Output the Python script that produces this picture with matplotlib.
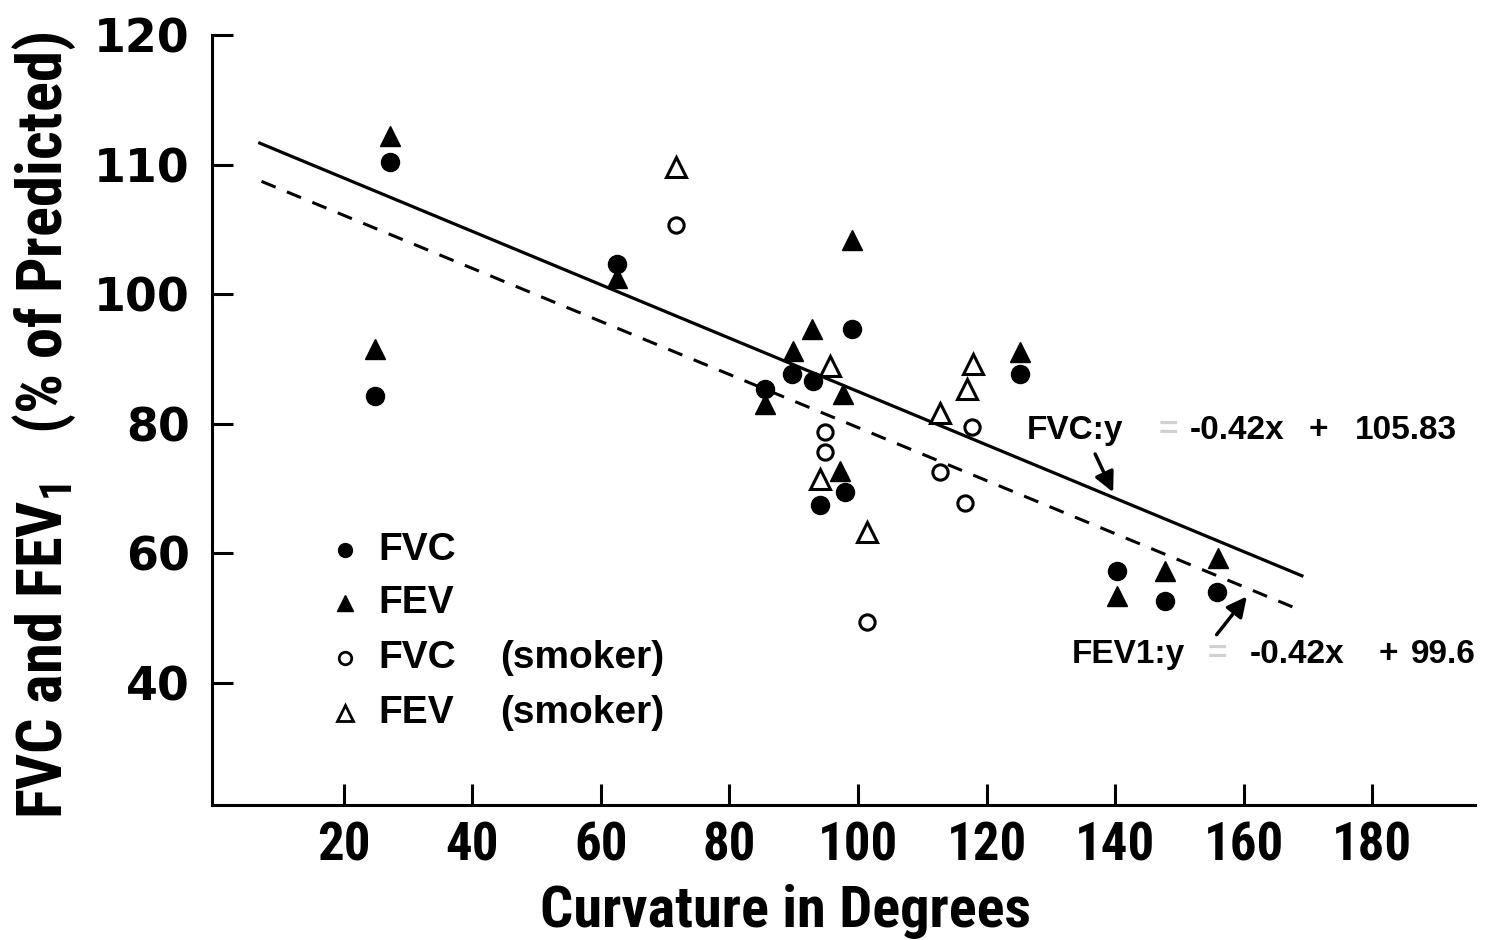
import numpy as np
import matplotlib
matplotlib.use("Agg")
import matplotlib.pyplot as plt

# non smokers
fvc_x = [27.2, 24.8, 62.5, 85.5, 89.7, 93.0, 99.0, 94.1, 98.0, 125.2, 140.3, 147.8, 155.8]
fvc_y = [110.2, 84.2, 102.3, 85.3, 87.6, 86.5, 94.6, 67.5, 69.5, 87.6, 57.2, 52.6, 54.0]
fev_x = [27.2, 24.8, 62.5, 85.5, 89.9, 92.8, 97.7, 99.0, 97.2, 125.2, 140.3, 147.8, 156.0]
fev_y = [112.2, 91.5, 101.2, 83.0, 91.2, 94.6, 84.5, 104.2, 72.6, 91.0, 53.4, 57.2, 59.3]

# smokers
fvc_smk_x = [71.7, 94.9, 94.9, 101.4, 117.7, 112.8, 116.6]
fvc_smk_y = [105.3, 78.7, 75.6, 49.3, 79.4, 72.5, 67.8]
fev_smk_x = [71.7, 95.6, 94.1, 101.4, 117.9, 116.9, 112.8]
fev_smk_y = [109.8, 88.9, 71.4, 63.2, 89.2, 85.3, 81.7]

# regression lines as drawn
fvc_fit_x = [6.7, 169.3]
fvc_fit_y = [111.7, 56.4]
fev_fit_x = [7.2, 169.3]
fev_fit_y = [108.7, 51.0]

x_ticks = [20, 40, 60, 80, 100, 120, 140, 160, 180]
y_ticks = [40, 60, 80, 100, 110, 120]


# the original axis packs 10 units per step above 100 and 20 below
def fwd(v):
    v = np.asarray(v, dtype=float)
    return np.where(v >= 100, v, 100 + (v - 100) / 2)


def inv(p):
    p = np.asarray(p, dtype=float)
    return np.where(p >= 100, p, 100 + 2 * (p - 100))


NARROW = ["Roboto Condensed", "Liberation Sans", "DejaVu Sans"]
BOLD = ["Liberation Sans", "DejaVu Sans"]

fig = plt.figure(figsize=(14.85, 9.4), dpi=100)
ax = fig.add_axes([212 / 1485, 1 - 805 / 940, (1475 - 212) / 1485, (805 - 35) / 940])
ax.set_yscale("function", functions=(fwd, inv))
ax.set_xlim(-0.5, 196)
ax.set_ylim(21.1, 120)

for s in ["top", "right"]:
    ax.spines[s].set_visible(False)
for s in ["left", "bottom"]:
    ax.spines[s].set_linewidth(2.2)

ax.plot(fvc_fit_x, fvc_fit_y, color="black", lw=2.3, solid_capstyle="butt")
ax.plot(fev_fit_x, fev_fit_y, color="black", lw=2.2, ls=(0, (5, 4)))

ax.plot(fvc_x, fvc_y, "o", color="black", ms=13, ls="none")
ax.plot(fev_x, fev_y, "^", color="black", ms=15, ls="none")
ax.plot(fvc_smk_x, fvc_smk_y, "o", mfc="white", mec="black", mew=2.2, ms=11, ls="none")
ax.plot(fev_smk_x, fev_smk_y, "^", mfc="white", mec="black", mew=2.2, ms=14, ls="none")

ax.set_xticks(x_ticks)
ax.set_xticklabels([str(t) for t in x_ticks], fontsize=38, fontweight="bold", family=NARROW)
ax.set_yticks(y_ticks)
ax.set_yticklabels([str(t) for t in y_ticks], fontsize=33, fontweight="bold", family="DejaVu Sans")
ax.yaxis.set_minor_locator(matplotlib.ticker.NullLocator())
ax.tick_params(axis="both", direction="in", length=15, width=2.2)
ax.tick_params(axis="y", pad=16)
ax.tick_params(axis="x", pad=11)

ax.set_xlabel("Curvature in Degrees", fontsize=42, fontweight="bold", family=NARROW)
ax.xaxis.set_label_coords(0.4537, -0.103)
ax.set_ylabel("FVC and FEV$_\\mathregular{1}$   (% of Predicted)", fontsize=45,
              fontweight="bold", family=NARROW)
ax.yaxis.set_label_coords(-0.106, 0.4935)

# equations
eq_kw = dict(fontsize=24, fontweight="bold", family=BOLD, va="center")
ax.text(126.3, 79.0, "FVC:y", **eq_kw)
ax.text(146.7, 79.0, "=", color="#d0d0d0", **eq_kw)
ax.text(151.6, 79.0, "-0.42x", **eq_kw)
ax.text(170.1, 79.0, "+", **eq_kw)
ax.text(177.3, 79.0, "105.83", **eq_kw)

ax.text(133.3, 44.3, "FEV1:y", **eq_kw)
ax.text(154.4, 44.3, "=", color="#d0d0d0", **eq_kw)
ax.text(161.0, 44.3, "-0.42x", **eq_kw)
ax.text(181.0, 44.3, "+", **eq_kw)
ax.text(186.0, 44.3, "99.6", **eq_kw)

arrow = dict(arrowstyle="-|>", lw=2.5, color="black", mutation_scale=30, shrinkA=0, shrinkB=0)
ax.annotate("", xy=(139.7, 69.4), xytext=(136.9, 75.3), arrowprops=arrow)
ax.annotate("", xy=(160.5, 53.3), xytext=(155.8, 47.4), arrowprops=arrow)

# legend drawn by hand
leg_x = 0.1053
txt_x = 0.1314
smk_x = 0.228
rows = [0.3312, 0.2623, 0.1909, 0.1195]
leg_kw = dict(transform=ax.transAxes, clip_on=False, ls="none")
ax.plot(leg_x, rows[0], "o", color="black", ms=10, **leg_kw)
ax.plot(leg_x, rows[1], "^", color="black", ms=12, **leg_kw)
ax.plot(leg_x, rows[2], "o", mfc="white", mec="black", mew=2, ms=9, **leg_kw)
ax.plot(leg_x, rows[3], "^", mfc="white", mec="black", mew=2, ms=11, **leg_kw)
txt_kw = dict(transform=ax.transAxes, fontsize=28, fontweight="bold", family=BOLD, va="center")
ax.text(txt_x, rows[0], "FVC", **txt_kw)
ax.text(txt_x, rows[1], "FEV", **txt_kw)
ax.text(txt_x, rows[2], "FVC", **txt_kw)
ax.text(txt_x, rows[3], "FEV", **txt_kw)
ax.text(smk_x, rows[2], "(smoker)", **txt_kw)
ax.text(smk_x, rows[3], "(smoker)", **txt_kw)

fig.savefig("out.png", dpi=100)
